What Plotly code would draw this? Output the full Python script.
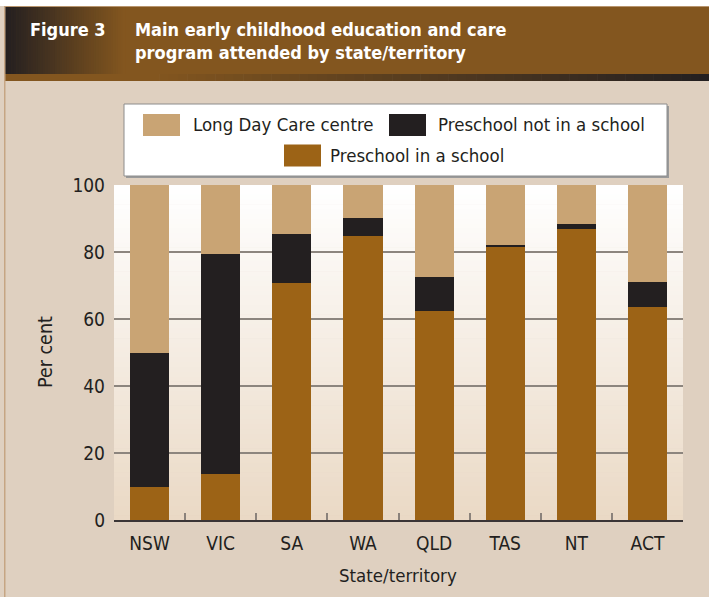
import plotly.graph_objects as go

# ---------------- data ----------------
categories = ["NSW", "VIC", "SA", "WA", "QLD", "TAS", "NT", "ACT"]
series_names = ["Preschool in a school", "Preschool not in a school", "Long Day Care centre"]
preschool_in_school = [10.0, 13.7, 70.7, 84.8, 62.4, 81.5, 86.8, 63.5]
preschool_not_in_school = [40.0, 65.7, 14.7, 5.3, 10.1, 0.6, 1.5, 7.5]
long_day_care = [50.0, 20.6, 14.6, 9.9, 27.5, 17.9, 11.7, 29.0]
y_ticks = [0, 20, 40, 60, 80, 100]
series_colors = ["#9C6316", "#231F20", "#C9A474"]
fig_label = "Figure 3"
title_lines = ["Main early childhood education and care", "program attended by state/territory"]
x_title = "State/territory"
y_title = "Per cent"

# ---------------- geometry ----------------
W, H = 709, 597
ML, MR, MT, MB = 114, 26, 185, 77
PW = W - ML - MR
PH = H - MT - MB
FONT = "DejaVu Sans Condensed, DejaVu Sans, sans-serif"
TXT = "#231F20"


def px(x):
    return (x - ML) / PW


def py(y):
    return (H - MB - y) / PH


def hex2rgb(h):
    h = h.lstrip("#")
    return tuple(int(h[i:i + 2], 16) for i in (0, 2, 4))


def lerp(c1, c2, t):
    a, b = hex2rgb(c1), hex2rgb(c2)
    return "rgb(%d,%d,%d)" % tuple(round(a[i] + (b[i] - a[i]) * t) for i in range(3))


shapes = []


def rect(x0, y0, x1, y1, color, line=None, lw=0):
    shapes.append(dict(type="rect", xref="paper", yref="paper", layer="below",
                       x0=px(x0), x1=px(x1), y0=py(y1), y1=py(y0),
                       fillcolor=color, line=dict(width=lw, color=line or color)))


def hgrad(x0, x1, y0, y1, c1, c2, n=40):
    step = (x1 - x0) / n
    for i in range(n):
        rect(x0 + i * step, y0, x0 + (i + 1) * step + 0.6, y1, lerp(c1, c2, i / (n - 1)))


def vgrad(x0, x1, y0, y1, c1, c2, n=60):
    step = (y1 - y0) / n
    for i in range(n):
        rect(x0, y0 + i * step, x1, y0 + (i + 1) * step + 0.6, lerp(c1, c2, i / (n - 1)))


BG = "#DFD0C0"
BROWN = "#83561F"
DARK = "#231F20"

# top white strip and frame lines
rect(0, 0, W, 6, "#FFFFFF")
rect(4, 6, W, 7, "#B8956E")
# header band
rect(4, 7, W, 74, BROWN)
hgrad(4, 125, 7, 74, DARK, BROWN, n=50)
# bottom dark strip of the header
rect(4, 74, 150, 81, BROWN)
hgrad(150, W, 74, 81, BROWN, DARK, n=60)
# left frame line
rect(4, 6, 5.5, H, "#C6A583")
# plot area gradient
vgrad(ML, ML + PW, MT, MT + PH, "#FFFFFF", "#EAD9C5", n=70)

# legend box
rect(126, 106, 669, 178, "#9A9A9A")
rect(124, 104, 667, 176, "#FFFFFF", line="#8C8C8C", lw=1)

annotations = []
legend_rows = [
    [(2, 143, 191), (1, 389, 436)],
    [(0, 284, 328)],
]
row_y = [125, 155.5]
for r, row in enumerate(legend_rows):
    for idx, sx, tx in row:
        rect(sx, row_y[r] - 11, sx + 37, row_y[r] + 11, series_colors[idx])
        annotations.append(dict(xref="paper", yref="paper", x=px(tx), y=py(row_y[r]),
                                xanchor="left", yanchor="middle", showarrow=False,
                                text=series_names[idx],
                                font=dict(family=FONT, size=18.5, color=TXT)))

# header texts
annotations.append(dict(xref="paper", yref="paper", x=px(28), y=py(29),
                        xanchor="left", yanchor="middle", showarrow=False,
                        text="<b>%s</b>" % fig_label,
                        font=dict(family=FONT, size=18, color="#FFFFFF")))
for i, t in enumerate(title_lines):
    annotations.append(dict(xref="paper", yref="paper", x=px(133), y=py(29 + 23 * i),
                            xanchor="left", yanchor="middle", showarrow=False,
                            text="<b>%s</b>" % t,
                            font=dict(family=FONT, size=18, color="#FFFFFF")))

# axis titles
annotations.append(dict(xref="paper", yref="paper", x=px(45), y=py(352),
                        xanchor="center", yanchor="middle", showarrow=False,
                        textangle=-90, text=y_title,
                        font=dict(family=FONT, size=19.5, color=TXT)))
annotations.append(dict(xref="paper", yref="paper", x=px(398), y=py(575),
                        xanchor="center", yanchor="middle", showarrow=False,
                        text=x_title,
                        font=dict(family=FONT, size=18.5, color=TXT)))

# ---------------- traces ----------------
fig = go.Figure()
for name, vals, col in zip(series_names,
                           [preschool_in_school, preschool_not_in_school, long_day_care],
                           series_colors):
    fig.add_trace(go.Bar(x=categories, y=vals, name=name, marker=dict(color=col, line=dict(width=0)),
                         showlegend=False))

fig.update_layout(
    width=W, height=H,
    margin=dict(l=ML, r=MR, t=MT, b=MB, pad=0),
    paper_bgcolor=BG,
    plot_bgcolor="rgba(0,0,0,0)",
    barmode="stack",
    bargap=0.45,
    shapes=shapes,
    annotations=annotations,
    font=dict(family=FONT, size=19, color=TXT),
    xaxis=dict(
        showgrid=False, showline=True, linecolor="#3A3536", linewidth=2,
        ticks="inside", tickson="boundaries", ticklen=7, tickwidth=2, tickcolor="#8A827B",
        tickfont=dict(family=FONT, size=19, color=TXT), ticklabelstandoff=5,
        zeroline=False, fixedrange=True,
    ),
    yaxis=dict(
        range=[0, 100], tickvals=y_ticks, showgrid=True, gridcolor="#8C857E", gridwidth=2,
        showline=False, zeroline=False, ticks="", ticklabelstandoff=8,
        tickfont=dict(family=FONT, size=19, color=TXT), fixedrange=True,
    ),
)

fig.write_html("out.html", config={"displayModeBar": False},
               post_script="document.body.style.margin='0';document.body.style.overflow='hidden';")
